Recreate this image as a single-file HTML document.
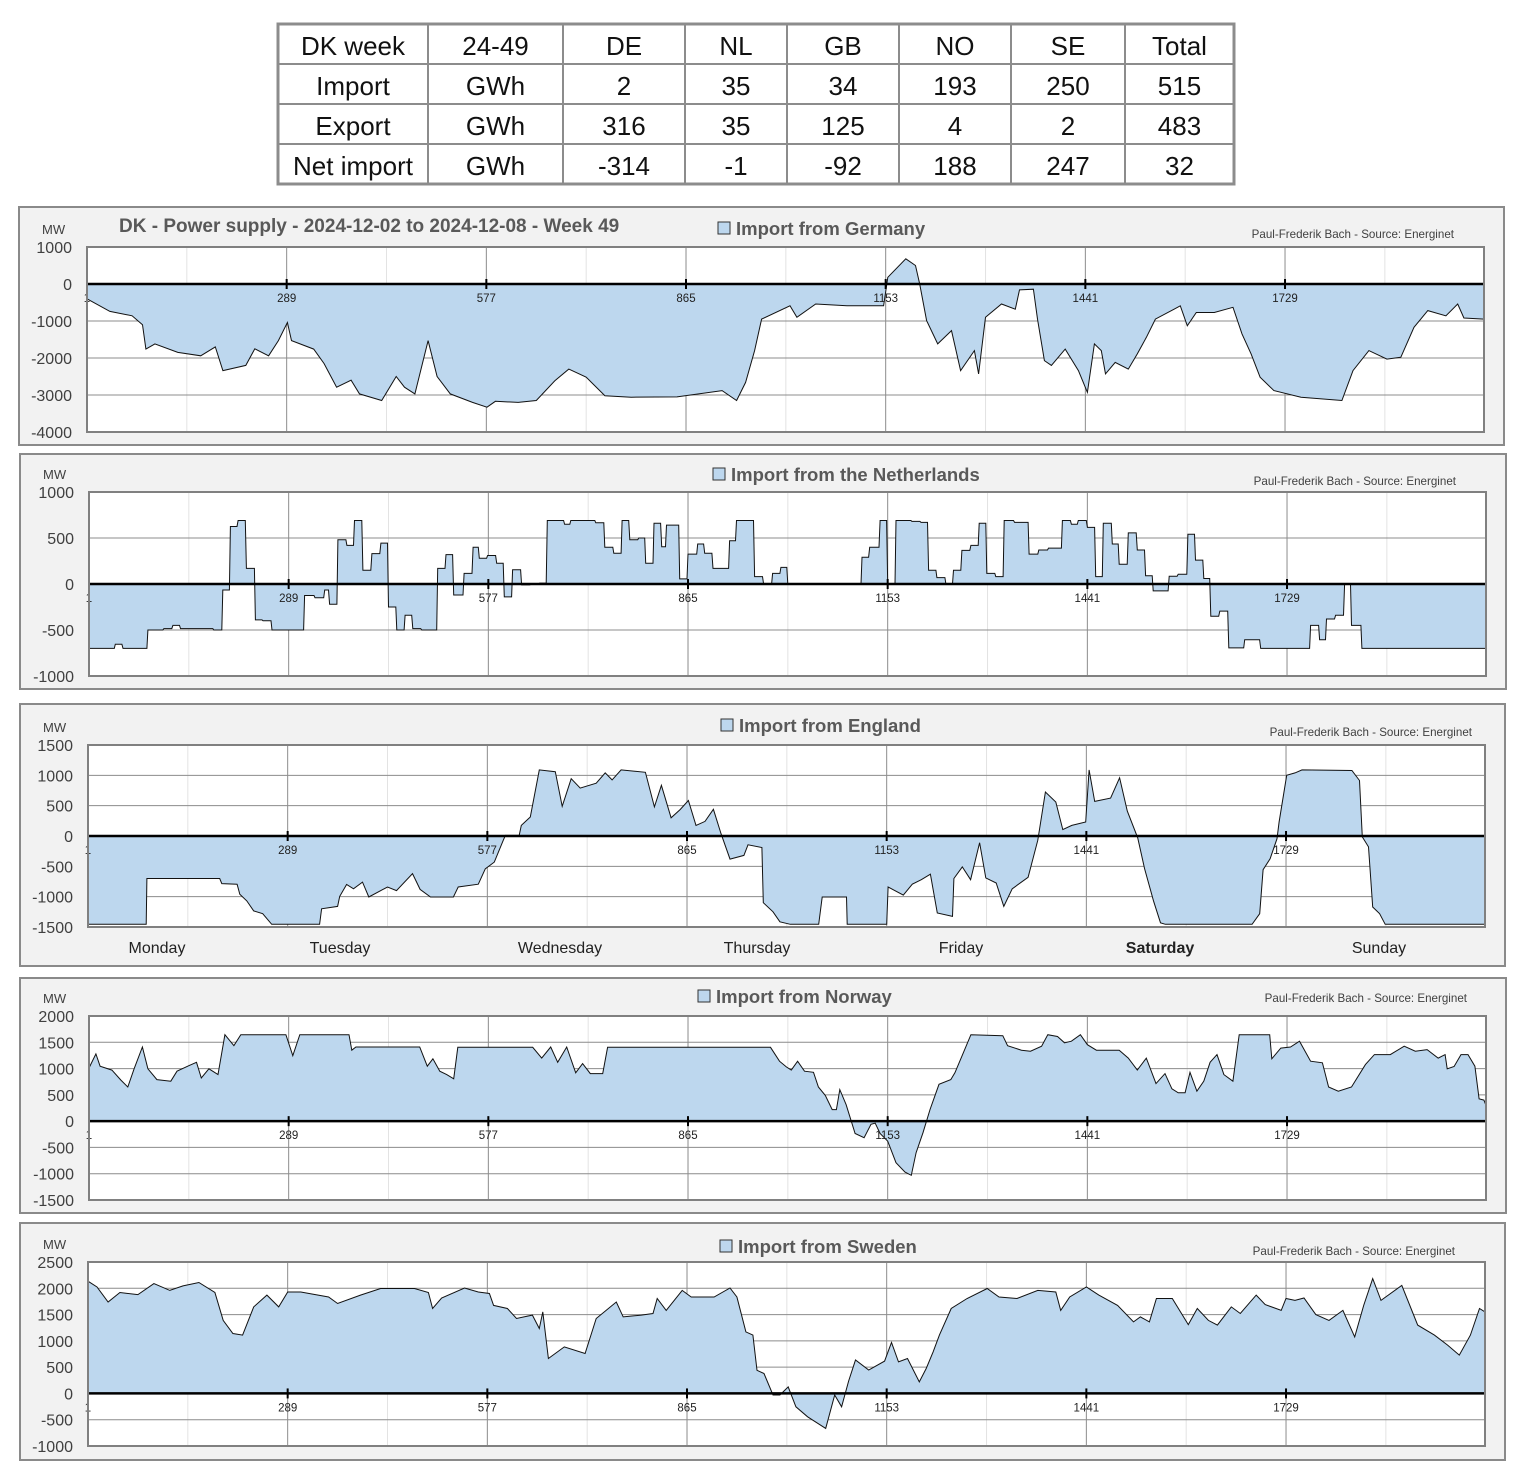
<!DOCTYPE html>
<html><head><meta charset="utf-8"><style>
html,body{margin:0;padding:0;background:#fff;}
svg{display:block;font-family:"Liberation Sans",Arial,sans-serif;}
</style></head><body>
<svg id="root" width="1530" height="1467" viewBox="0 0 1530 1467" xmlns="http://www.w3.org/2000/svg"></svg>
<script>
// ---------- table data ----------
const tblHeader = ["DK week","24-49","DE","NL","GB","NO","SE","Total"];
const tblRowLabels = ["Import","Export","Net import"];
const tblUnits = ["GWh","GWh","GWh"];
const tblImport = [2,35,34,193,250,515];
const tblExport = [316,35,125,4,2,483];
const tblNet = [-314,-1,-92,188,247,32];

// ---------- chart data ----------
const xTicks = [1,289,577,865,1153,1441,1729];
const dayLabels = ["Monday","Tuesday","Wednesday","Thursday","Friday","Saturday","Sunday"];

const deIdx = [1,34,66,81,86,99,132,165,186,197,230,243,263,277,290,296,328,343,361,382,394,426,447,459,474,493,506,525,557,578,590,623,649,676,696,721,748,786,852,917,938,951,964,974,1015,1025,1052,1097,1150,1156,1182,1196,1202,1212,1228,1248,1261,1281,1287,1297,1320,1340,1346,1366,1372,1382,1392,1412,1431,1444,1454,1464,1470,1484,1503,1516,1529,1542,1569,1578,1588,1601,1627,1654,1667,1680,1693,1713,1752,1811,1827,1850,1876,1896,1915,1935,1961,1978,1987,2016];
const deVal = [-400,-740,-860,-1100,-1760,-1620,-1850,-1940,-1700,-2340,-2200,-1750,-1940,-1530,-1040,-1530,-1760,-2150,-2790,-2600,-2970,-3150,-2500,-2790,-2970,-1530,-2500,-2970,-3200,-3330,-3170,-3200,-3150,-2610,-2300,-2520,-3020,-3060,-3050,-2880,-3150,-2660,-1800,-950,-590,-900,-540,-590,-590,180,680,500,0,-990,-1620,-1260,-2340,-1800,-2430,-900,-540,-680,-160,-140,-950,-2070,-2200,-1760,-2340,-2930,-1620,-1800,-2430,-2120,-2300,-1890,-1440,-950,-680,-590,-1130,-770,-770,-630,-1350,-1890,-2520,-2880,-3060,-3150,-2340,-1800,-2030,-1980,-1170,-720,-860,-540,-920,-950];

const nlIdx = [1,39,50,86,109,122,133,181,194,205,216,228,241,252,265,312,327,341,348,360,373,384,396,409,422,433,445,457,468,481,504,516,527,542,555,564,576,589,600,612,625,638,651,662,687,696,732,745,758,770,781,794,804,816,827,834,853,865,879,889,901,925,935,961,974,987,999,1009,1116,1127,1142,1153,1165,1188,1201,1212,1224,1237,1248,1260,1273,1285,1296,1309,1321,1336,1357,1371,1385,1405,1418,1428,1441,1453,1464,1477,1487,1500,1513,1525,1536,1559,1572,1586,1597,1609,1619,1632,1645,1668,1691,1763,1776,1786,1799,1812,1822,1837];
const nlVal = [-700,-655,-700,-500,-485,-450,-485,-500,-65,625,690,170,-390,-400,-500,-125,-150,-65,-220,480,420,690,150,330,445,-250,-500,-340,-485,-500,170,320,-120,115,400,280,310,225,-140,155,-10,-5,10,690,650,690,665,400,335,690,480,500,225,660,405,640,55,325,435,335,170,470,690,80,0,115,180,0,290,400,690,0,690,680,670,150,70,0,150,365,420,660,115,80,690,670,325,370,390,690,650,690,615,80,660,435,215,555,370,90,-75,85,105,540,260,60,-350,-295,-695,-605,-700,-450,-605,-380,-340,0,-450,-700];

const gbIdx = [1,85,86,191,194,216,220,230,240,253,266,335,338,361,364,374,384,397,406,433,446,469,480,495,528,535,564,574,587,600,603,623,626,639,652,675,685,698,711,734,747,757,770,805,818,828,842,855,867,878,891,903,914,927,947,953,973,975,989,999,1014,1055,1060,1095,1096,1153,1155,1177,1190,1203,1216,1226,1248,1250,1262,1274,1287,1296,1311,1322,1334,1357,1371,1382,1397,1407,1420,1440,1445,1453,1476,1489,1500,1515,1525,1538,1548,1555,1680,1691,1696,1706,1716,1719,1730,1742,1752,1824,1835,1839,1848,1854,1864,1872,2016];
const gbVal = [-1455,-1455,-700,-700,-785,-795,-960,-1070,-1235,-1280,-1455,-1455,-1200,-1160,-995,-800,-870,-760,-1005,-840,-900,-620,-880,-1005,-1005,-840,-795,-540,-430,-70,10,10,175,313,1090,1060,490,945,790,870,1040,925,1090,1050,480,835,300,435,585,175,240,440,40,-380,-320,-145,-190,-1100,-1250,-1415,-1455,-1455,-1005,-1005,-1455,-1455,-840,-975,-795,-720,-630,-1270,-1325,-700,-510,-720,-110,-690,-775,-1160,-870,-680,-70,725,560,105,175,230,1090,570,625,960,410,-30,-540,-1075,-1430,-1455,-1455,-1280,-555,-375,-45,230,1000,1040,1090,1080,915,-15,-180,-1170,-1280,-1455,-1455];

const noIdx = [1,11,17,34,47,57,66,78,86,99,119,128,145,156,163,174,187,197,210,220,285,295,305,376,380,386,478,489,497,507,517,527,533,641,654,667,677,690,703,713,724,742,749,984,997,1007,1014,1023,1033,1046,1053,1063,1073,1079,1084,1093,1106,1119,1129,1135,1142,1153,1165,1178,1187,1194,1204,1214,1227,1244,1250,1260,1273,1319,1326,1346,1359,1375,1384,1398,1408,1418,1431,1441,1454,1487,1500,1513,1526,1540,1553,1563,1572,1582,1589,1599,1609,1618,1628,1638,1651,1660,1704,1707,1720,1734,1747,1763,1780,1789,1803,1822,1842,1855,1878,1898,1914,1931,1947,1957,1960,1970,1980,1990,2000,2006,2013,2016];
const noVal = [1010,1280,1045,970,780,650,995,1410,995,790,760,950,1055,1120,820,995,885,1645,1435,1645,1645,1245,1645,1645,1350,1410,1410,1045,1185,950,885,805,1405,1405,1200,1410,1120,1410,920,1095,905,905,1405,1405,1140,1030,970,1140,950,930,650,490,220,220,600,315,-235,-315,-60,-40,-235,-380,-790,-970,-1030,-600,-220,220,700,790,920,1235,1645,1625,1435,1350,1330,1425,1645,1610,1490,1520,1645,1455,1350,1350,1200,970,1200,715,905,615,540,540,930,570,760,1120,1265,885,760,1645,1645,1185,1390,1410,1520,1140,1110,650,570,650,1075,1265,1265,1425,1330,1360,1200,1265,995,1040,1265,1265,1045,425,400,300];

const seIdx = [1,14,30,47,73,96,119,138,161,184,196,210,224,240,259,276,289,308,348,361,394,423,472,492,498,511,544,564,580,586,606,619,642,652,657,665,688,718,734,763,773,799,816,822,835,858,871,904,927,937,950,960,966,976,989,999,1011,1022,1039,1065,1078,1088,1098,1108,1127,1150,1160,1170,1183,1200,1210,1220,1229,1246,1269,1298,1315,1341,1371,1397,1404,1417,1441,1459,1486,1509,1519,1532,1542,1565,1588,1601,1617,1630,1650,1663,1686,1699,1722,1729,1742,1755,1772,1791,1811,1828,1841,1854,1866,1896,1919,1943,1962,1979,1995,2008,2016];
const seVal = [2135,2025,1740,1920,1880,2090,1960,2045,2110,1920,1390,1140,1110,1645,1870,1645,1930,1930,1835,1710,1870,1995,1995,1920,1615,1815,2005,1930,1900,1675,1615,1425,1490,1235,1550,665,885,760,1425,1740,1455,1490,1520,1805,1580,1960,1835,1835,2005,1835,1170,1110,440,380,-30,-30,125,-255,-445,-665,-30,-255,235,635,445,615,970,600,665,220,475,790,1110,1615,1805,1995,1835,1805,1960,1930,1580,1835,2025,1870,1675,1360,1455,1360,1805,1805,1310,1615,1390,1300,1645,1520,1870,1690,1580,1805,1770,1815,1500,1390,1580,1075,1675,2185,1770,2055,1300,1110,920,730,1110,1615,1550];

// ---------- drawing ----------
const NS = "http://www.w3.org/2000/svg";
const root = document.getElementById('root');
function mk(tag, attrs, parent){ const e=document.createElementNS(NS,tag); for(const k in attrs) e.setAttribute(k,attrs[k]); (parent||root).appendChild(e); return e; }

// Table
(function(){
  const g = mk('g',{});
  
  
  const cols=[278,428,563,685,787,899,1011,1125,1234];
  const rows=[24,64,104,144,184];
  mk('rect',{x:278,y:24,width:956,height:160,fill:'#fff',stroke:'#8c8c8c','stroke-width':3},g);
  for(let i=1;i<cols.length-1;i++) mk('line',{x1:cols[i],x2:cols[i],y1:24,y2:184,stroke:'#8c8c8c','stroke-width':2},g);
  for(let j=1;j<rows.length-1;j++) mk('line',{x1:278,x2:1234,y1:rows[j],y2:rows[j],stroke:'#8c8c8c','stroke-width':2},g);
  const data=[tblHeader,
    [tblRowLabels[0],tblUnits[0]].concat(tblImport),
    [tblRowLabels[1],tblUnits[1]].concat(tblExport),
    [tblRowLabels[2],tblUnits[2]].concat(tblNet)];
  data.forEach((r,j)=>r.forEach((v,i)=>{
    const t=mk('text',{x:(cols[i]+cols[i+1])/2,y:rows[j]+31,'text-anchor':'middle','font-size':26,fill:'#111'},g);
    t.textContent=String(v);
    
    
  }));
})();

function panel(cfg, idx, vals, step){
  const g = mk('g',{});
  
  
  mk('rect',{x:cfg.bx,y:cfg.by,width:cfg.bw,height:cfg.bh,fill:'#f2f2f2',stroke:'#8a8a8a','stroke-width':2},g);
  const x0=cfg.x0,x1=cfg.x1,top=cfg.top,bot=cfg.bot;
  mk('rect',{x:x0,y:top,width:x1-x0,height:bot-top,fill:'#fff'},g);
  const X=i=>x0+(i-1)/2015*(x1-x0);
  const Y=v=>top+(cfg.ymax-v)/(cfg.ymax-cfg.ymin)*(bot-top);
  for(let i=145;i<2016;i+=288){ mk('line',{x1:X(i),x2:X(i),y1:top,y2:bot,stroke:'#e3e3e3','stroke-width':1},g); }
  for(let k=1;k<xTicks.length;k++){ mk('line',{x1:X(xTicks[k]),x2:X(xTicks[k]),y1:top,y2:bot,stroke:'#8c8c8c','stroke-width':1},g); }
  for(let v=cfg.ymin;v<=cfg.ymax;v+=cfg.ystep){
    mk('line',{x1:x0,x2:x1,y1:Y(v),y2:Y(v),stroke:'#8c8c8c','stroke-width':1},g);
    const t=mk('text',{x:x0-15,y:Y(v)+6,'text-anchor':'end','font-size':16,fill:'#404040'},g);
    t.textContent=String(v);
    
    
  }
  let pts=[];
  if(step){
    for(let k=0;k<idx.length;k++){
      const s=idx[k], e=(k+1<idx.length)?idx[k+1]:2016;
      pts.push([X(s),Y(vals[k])]);
      pts.push([X(Math.max(s,e-1.5)),Y(vals[k])]);
    }
  } else {
    for(let k=0;k<idx.length;k++) pts.push([X(idx[k]),Y(vals[k])]);
  }
  const y0=Y(0);
  let d='M'+pts[0][0].toFixed(1)+','+y0.toFixed(1);
  pts.forEach(p=>d+='L'+p[0].toFixed(1)+','+p[1].toFixed(1));
  d+='L'+pts[pts.length-1][0].toFixed(1)+','+y0.toFixed(1)+'Z';
  const area=mk('path',{d:d,fill:'#bdd7ee',stroke:'none'},g);
  
  
  const line=mk('polyline',{points:pts.map(p=>p[0].toFixed(1)+','+p[1].toFixed(1)).join(' '),fill:'none',stroke:'#111','stroke-width':1},g);
  
  
  mk('line',{x1:x0,x2:x1,y1:y0,y2:y0,stroke:'#000','stroke-width':2.5},g);
  xTicks.forEach(i=>{
    mk('line',{x1:X(i),x2:X(i),y1:y0-5,y2:y0+5,stroke:'#000','stroke-width':2},g);
    const t=mk('text',{x:X(i),y:y0+18,'text-anchor':'middle','font-size':11.5,fill:'#222'},g);
    t.textContent=String(i);
    
    
  });
  mk('rect',{x:x0,y:top,width:x1-x0,height:bot-top,fill:'none',stroke:'#808080','stroke-width':2},g);
  const mw=mk('text',{x:cfg.bx+23,y:top-13,'font-size':13,fill:'#404040'},g);
  mw.textContent='MW';
  
  
  const lg=mk('rect',{x:cfg.lx,y:cfg.ly-12,width:12,height:12,fill:'#bdd7ee',stroke:'#333','stroke-width':1},g);
  
  
  const lt=mk('text',{x:cfg.lx+18,y:cfg.ly+1,'font-size':18.5,'font-weight':'bold',fill:'#595959'},g);
  lt.textContent=cfg.legend;
  
  
  const cr=mk('text',{x:cfg.cx,y:cfg.cy,'text-anchor':'end','font-size':11.6,fill:'#404040'},g);
  cr.textContent='Paul-Frederik Bach - Source: Energinet';
  
  
  if(cfg.title){
    const tt=mk('text',{x:119,y:232,'font-size':19,'font-weight':'bold',fill:'#595959'},g);
    tt.textContent=cfg.title;
    
    
  }
  if(cfg.days){
    const dx=[157,340,560,757,961,1160,1379];
    dayLabels.forEach((n,k)=>{
      const t=mk('text',{x:dx[k],y:953,'text-anchor':'middle','font-size':16,fill:'#222','font-weight':k===5?'bold':'normal'},g);
      t.textContent=n;
      
      
    });
  }
}

panel({name:'germany-panel',bx:19,by:207,bw:1485,bh:238,x0:87,x1:1484,top:247,bot:432,ymax:1000,ymin:-4000,ystep:1000,lx:718,ly:234,legend:'Import from Germany',cx:1454,cy:238,title:'DK - Power supply - 2024-12-02 to 2024-12-08 - Week 49'},deIdx,deVal,false);
panel({name:'netherlands-panel',bx:20,by:454,bw:1486,bh:235,x0:89,x1:1486,top:492,bot:676,ymax:1000,ymin:-1000,ystep:500,lx:713,ly:480,legend:'Import from the Netherlands',cx:1456,cy:485},nlIdx,nlVal,true);
panel({name:'england-panel',bx:20,by:704,bw:1485,bh:262,x0:88,x1:1485,top:745,bot:927,ymax:1500,ymin:-1500,ystep:500,lx:721,ly:731,legend:'Import from England',cx:1472,cy:736,days:true},gbIdx,gbVal,false);
panel({name:'norway-panel',bx:20,by:978,bw:1486,bh:235,x0:89,x1:1486,top:1016,bot:1200,ymax:2000,ymin:-1500,ystep:500,lx:698,ly:1002,legend:'Import from Norway',cx:1467,cy:1002},noIdx,noVal,false);
panel({name:'sweden-panel',bx:20,by:1223,bw:1485,bh:237,x0:88,x1:1485,top:1262,bot:1446,ymax:2500,ymin:-1000,ystep:500,lx:720,ly:1252,legend:'Import from Sweden',cx:1455,cy:1255},seIdx,seVal,false);
</script>
</body></html>
